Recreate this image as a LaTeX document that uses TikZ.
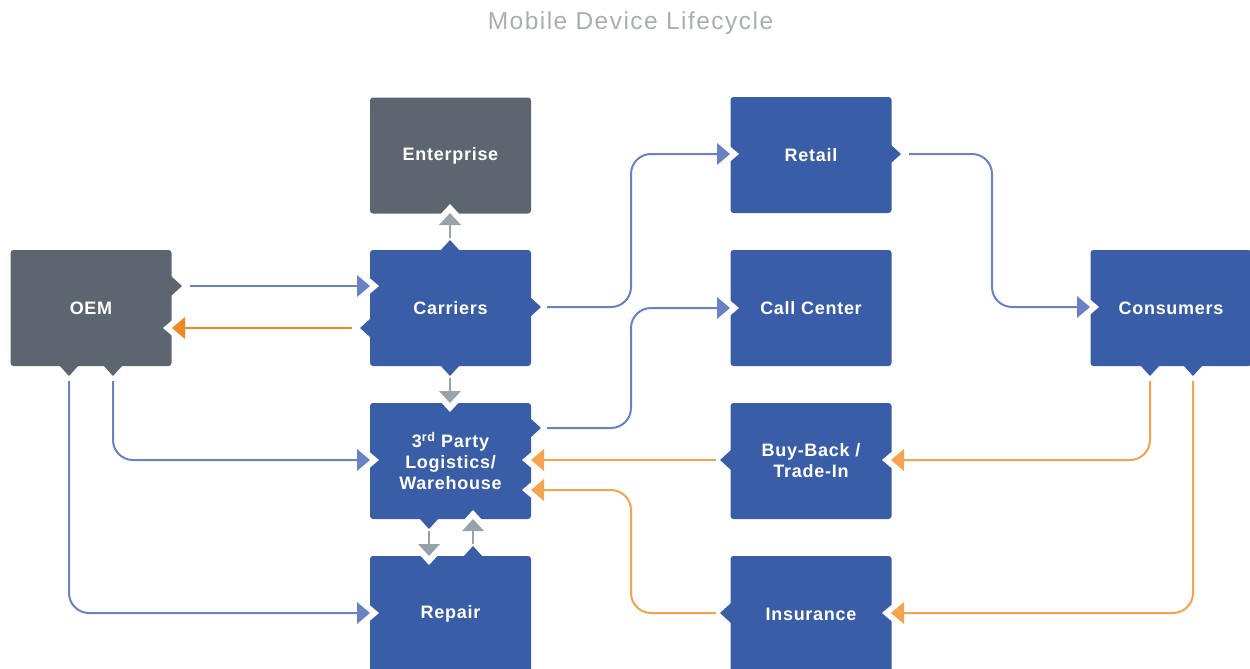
\documentclass[tikz,border=0pt]{standalone}
\usepackage{fontspec}
\usetikzlibrary{calc}
\setmainfont{Liberation Sans}
\newfontfamily\boxfont[LetterSpace=4]{Liberation Sans}
\newfontfamily\titlefont[LetterSpace=6]{Liberation Sans}
\definecolor{boxblue}{RGB}{58,93,168}
\definecolor{boxgray}{RGB}{93,102,112}
\definecolor{lineblue}{RGB}{104,130,196}
\definecolor{lineorange}{RGB}{244,163,80}
\definecolor{oemorange}{RGB}{240,138,36}
\definecolor{arrgray}{RGB}{152,162,170}
\definecolor{titlegray}{RGB}{168,174,180}
\newcommand\tabout[3]{\fill[#3,shift={(#1)},rotate=#2] (-1,10) -- (10,0) -- (-1,-10) -- cycle;}
\newcommand\arrin[3]{%
  \fill[white,shift={(#1)},rotate=#2] (-4,11) -- (9,0) -- (-4,-11) -- cycle;
  \fill[#3,shift={(#1)},rotate=#2] (-13,11) -- (0,0) -- (-13,-11) -- cycle;}
\newcommand\arrinsm[3]{%
  \fill[white,shift={(#1)},rotate=#2] (-3,11) -- (9,0) -- (-3,-11) -- cycle;
  \fill[#3,shift={(#1)},rotate=#2] (-12,11) -- (0,0) -- (-12,-11) -- cycle;}
\begin{document}
\begin{tikzpicture}[x=1pt,y=-1pt,
  box/.style={rounded corners=3pt, minimum width=161pt, minimum height=116pt, inner sep=0pt,
    text=white, font=\boxfont\bfseries\fontsize{18}{21}\selectfont, align=center},
  bluebox/.style={box, fill=boxblue},
  graybox/.style={box, fill=boxgray},
  bline/.style={draw=lineblue, line width=2pt, rounded corners=20pt},
  oline/.style={draw=lineorange, line width=2pt, rounded corners=20pt},
  doline/.style={draw=oemorange, line width=2pt},
  gline/.style={draw=arrgray, line width=2.5pt}]
\useasboundingbox (0,0) rectangle (1250,669);
\clip (0,0) rectangle (1250,669);

\node[font=\titlefont\fontsize{24.5}{28}\selectfont, text=titlegray] (title) at (630.5,23) {Mobile Device Lifecycle};

% boxes
\node[graybox] (oem) at (91,308) {OEM};
\node[graybox] (ent) at (450.5,155.5) {Enterprise};
\node[bluebox] (car) at (450.5,308) {Carriers};
\node[bluebox] (tpl) at (450.5,461) {3\textsuperscript{rd} Party\\Logistics/\\Warehouse};
\node[bluebox] (rep) at (450.5,614) {Repair};
\node[bluebox] (ret) at (811,155) {Retail};
\node[bluebox] (cal) at (811,308) {Call Center};
\node[bluebox] (buy) at (811,461) {Buy-Back /\\Trade-In};
\node[bluebox] (ins) at (811,614) {Insurance};
\node[bluebox] (con) at (1171,308) {Consumers};

% tab points (outgoing)
\coordinate (oemE) at (172,286);
\coordinate (oemS1) at (69,366);
\coordinate (oemS2) at (113,366);
\coordinate (carW) at (370,328);
\coordinate (carE) at (531,307);
\coordinate (carN) at (450,250);
\coordinate (carS) at (450,366);
\coordinate (tplE) at (531,428);
\coordinate (tplS) at (429,519);
\coordinate (repN) at (473,556);
\coordinate (retE) at (891,154);
\coordinate (conS1) at (1150,366);
\coordinate (conS2) at (1193,366);
\coordinate (buyW) at (730,460);
\coordinate (insW) at (730,613);

% arrow tips (incoming)
\coordinate (carIn) at (370,286);
\coordinate (oemIn) at (172,328);
\coordinate (entIn) at (450,213);
\coordinate (tplInN) at (450,403);
\coordinate (repInN) at (429,556);
\coordinate (tplInS) at (473,519);
\coordinate (retIn) at (730,154);
\coordinate (calIn) at (730,308);
\coordinate (conIn) at (1090,307);
\coordinate (tplInW) at (370,460);
\coordinate (repInW) at (370,613);
\coordinate (buyIn) at (891,460);
\coordinate (insIn) at (891,613);
\coordinate (tplInE1) at (531,460);
\coordinate (tplInE2) at (531,490);

% tabs
\tabout{oemE}{0}{boxgray}
\tabout{oemS1}{-90}{boxgray}
\tabout{oemS2}{-90}{boxgray}
\tabout{carW}{180}{boxblue}
\tabout{carE}{0}{boxblue}
\tabout{carN}{90}{boxblue}
\tabout{carS}{-90}{boxblue}
\tabout{tplE}{0}{boxblue}
\tabout{tplS}{-90}{boxblue}
\tabout{repN}{90}{boxblue}
\tabout{retE}{0}{boxblue}
\tabout{conS1}{-90}{boxblue}
\tabout{conS2}{-90}{boxblue}
\tabout{buyW}{180}{boxblue}
\tabout{insW}{180}{boxblue}

% connectors
\draw[bline] ($(oemE)+(18,0)$) -- ($(carIn)+(-12,0)$);
\draw[doline] ($(carW)+(-18,0)$) -- ($(oemIn)+(12,0)$);
\draw[gline] ($(carN)+(0,-12)$) -- ($(entIn)+(0,10)$);
\draw[gline] ($(carS)+(0,12)$) -- ($(tplInN)+(0,-10)$);
\draw[gline] ($(tplS)+(0,12)$) -- ($(repInN)+(0,-10)$);
\draw[gline] ($(repN)+(0,-12)$) -- ($(tplInS)+(0,10)$);
\draw[bline] ($(carE)+(16,0)$) -- (631,307) -- (631,154) -- ($(retIn)+(-12,0)$);
\draw[bline] ($(tplE)+(16,0)$) -- (631,428) -- (631,308) -- ($(calIn)+(-12,0)$);
\draw[bline] ($(retE)+(18,0)$) -- (992,154) -- (992,307) -- ($(conIn)+(-12,0)$);
\draw[bline] ($(oemS2)+(0,15)$) -- (113,460) -- ($(tplInW)+(-12,0)$);
\draw[bline] ($(oemS1)+(0,15)$) -- (69,613) -- ($(repInW)+(-12,0)$);
\draw[oline] ($(conS1)+(0,15)$) -- (1150,460) -- ($(buyIn)+(12,0)$);
\draw[oline] ($(conS2)+(0,15)$) -- (1193,613) -- ($(insIn)+(12,0)$);
\draw[oline] ($(buyW)+(-14,0)$) -- ($(tplInE1)+(12,0)$);
\draw[oline] ($(insW)+(-14,0)$) -- (631,613) -- (631,490) -- ($(tplInE2)+(12,0)$);

% arrowheads with notches
\arrin{carIn}{0}{lineblue}
\arrin{oemIn}{180}{oemorange}
\arrinsm{entIn}{90}{arrgray}
\arrinsm{tplInN}{-90}{arrgray}
\arrinsm{repInN}{-90}{arrgray}
\arrinsm{tplInS}{90}{arrgray}
\arrin{retIn}{0}{lineblue}
\arrin{calIn}{0}{lineblue}
\arrin{conIn}{0}{lineblue}
\arrin{tplInW}{0}{lineblue}
\arrin{repInW}{0}{lineblue}
\arrin{buyIn}{180}{lineorange}
\arrin{insIn}{180}{lineorange}
\arrin{tplInE1}{180}{lineorange}
\arrin{tplInE2}{180}{lineorange}
\end{tikzpicture}
\end{document}
